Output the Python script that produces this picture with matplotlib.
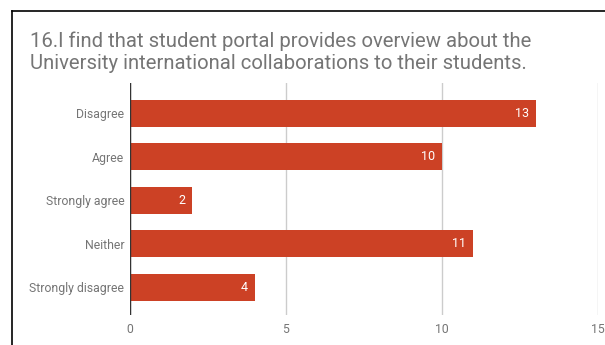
import matplotlib.pyplot as plt
from matplotlib.lines import Line2D

categories = ['Disagree', 'Agree', 'Strongly agree', 'Neither', 'Strongly disagree']
counts = [13, 10, 2, 11, 4]
xticks = [0, 5, 10, 15]

title = ('16.I find that student portal provides overview about the\n'
         'University international collaborations to their students.')

plt.rcParams['font.family'] = ['Roboto', 'DejaVu Sans']

W, H = 605, 345
fig = plt.figure(figsize=(W / 100, H / 100), dpi=100)
fig.patch.set_facecolor('white')

# plot area in pixels: x 130..598, y 83..315
ax = fig.add_axes([130 / W, 1 - 315 / H, 468 / W, 232 / H])

bar_color = '#cc4125'
pos = list(range(len(categories)))
ax.barh(pos, counts, height=0.62, color=bar_color, zorder=3)

for p, v in zip(pos, counts):
    ax.text(v - 0.22, p, str(v), ha='right', va='center',
            color='white', fontsize=9, zorder=4)

ax.set_xlim(0, 15)
ax.set_ylim(4.64, -0.69)
ax.set_xticks(xticks)
ax.set_xticklabels([str(t) for t in xticks])
ax.set_yticks(pos)
ax.set_yticklabels(categories)
ax.tick_params(axis='both', length=0, colors='#757575', labelsize=8.8)
ax.tick_params(axis='y', pad=4)
ax.tick_params(axis='x', pad=6)

ax.grid(axis='x', color='#cccccc', linewidth=1, zorder=0)
for s in ax.spines.values():
    s.set_visible(False)
ax.axvline(0, color='#333333', linewidth=1, zorder=5)

fig.text(30 / W, 1 - 31 / H, title, ha='left', va='top',
         fontsize=14.6, color='#757575', linespacing=1.25)

# black frame along the top and left edges
fig.add_artist(Line2D([12 / W, 12 / W], [0, 1 - 11 / H],
                      transform=fig.transFigure, color='black', linewidth=1.2))
fig.add_artist(Line2D([12 / W, 1], [1 - 11 / H, 1 - 11 / H],
                      transform=fig.transFigure, color='black', linewidth=1.2))

fig.savefig('out.png', dpi=100)
